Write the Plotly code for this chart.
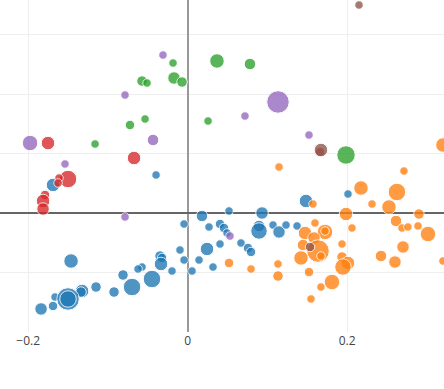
import plotly.graph_objects as go

# ---- data ----
blue_x = [-0.1689, -0.0397, 0.1483, 0.2010, 0.1371, -0.0046, 0.0179, 0.0518, 0.0932, 0.0267,
          0.0405, 0.0455, 0.0493, 0.0894, 0.0894, 0.1070, 0.1145, 0.1233, 0.0242, 0.0405,
          0.0668, 0.0756, 0.0794, -0.0046, 0.0142, 0.0317, 0.0054, -0.1463, -0.0097, -0.0347,
          -0.0322, -0.0335, -0.0573, -0.0623, -0.0197, -0.0811, -0.0448, -0.0698, -0.1150, -0.0924,
          -0.1325, -0.1338, -0.1664, -0.1501, -0.1501, -0.1689, -0.1839]
blue_y = [0.0471, 0.0639, 0.0202, 0.0319, -0.0218, -0.0185, -0.0050, 0.0034, 0.0000, -0.0235,
          -0.0185, -0.0252, -0.0336, -0.0218, -0.0303, -0.0202, -0.0319, -0.0202, -0.0605, -0.0521,
          -0.0504, -0.0588, -0.0655, -0.0790, -0.0790, -0.0908, -0.0975, -0.0807, -0.0622, -0.0723,
          -0.0756, -0.0857, -0.0908, -0.0941, -0.0975, -0.1042, -0.1109, -0.1244, -0.1244, -0.1328,
          -0.1311, -0.1328, -0.1412, -0.1445, -0.1445, -0.1563, -0.1613]
blue_s = [11, 6, 11, 6, 6, 6, 9, 6, 10, 6,
          7, 7, 6, 9, 14, 6, 10, 6, 11, 6,
          6, 7, 7, 6, 6, 6, 6, 12, 6, 8,
          7, 11, 6, 6, 6, 8, 15, 15, 8, 8,
          11, 8, 6, 20, 14, 7, 10]

orange_x = [0.2712, 0.2173, 0.2624, 0.2311, 0.2524, 0.1571, 0.1985, 0.2900, 0.1596, 0.2612,
            0.2060, 0.2687, 0.2762, 0.2888, 0.3013, 0.1471, 0.1722, 0.1722, 0.1584, 0.1446,
            0.1634, 0.1671, 0.1935, 0.2700, 0.1421, 0.1935, 0.2010, 0.1947, 0.2424, 0.2599,
            0.3201, 0.1521, 0.1809, 0.1671, 0.1546, 0.3201, 0.1145, 0.0518, 0.0794, 0.1132,
            0.1132]
orange_y = [0.0706, 0.0420, 0.0353, 0.0151, 0.0101, 0.0151, -0.0017, -0.0017, -0.0168, -0.0134,
            -0.0252, -0.0252, -0.0235, -0.0218, -0.0353, -0.0336, -0.0319, -0.0303, -0.0420, -0.0538,
            -0.0639, -0.0723, -0.0521, -0.0571, -0.0756, -0.0739, -0.0840, -0.0908, -0.0723, -0.0824,
            -0.0807, -0.0992, -0.1160, -0.1244, -0.1445, 0.1143, 0.0773, -0.0840, -0.0941, -0.0857,
            -0.1059]
orange_s = [6, 12, 15, 6, 12, 6, 11, 8, 6, 9,
            6, 6, 6, 6, 13, 11, 13, 6, 10, 9,
            20, 6, 6, 10, 12, 8, 11, 14, 9, 10,
            6, 7, 13, 6, 6, 12, 6, 7, 6, 6,
            8]

green_x = [-0.0573, -0.0510, -0.0724, -0.0535, -0.0184, -0.0172, -0.0071, 0.0367, 0.0781, 0.0255,
           -0.1162, 0.1985]
green_y = [0.2218, 0.2185, 0.1479, 0.1580, 0.2521, 0.2269, 0.2202, 0.2555, 0.2504, 0.1546,
           0.1160, 0.0975]
green_s = [8, 6, 7, 6, 6, 10, 8, 12, 9, 6, 6, 16]

red_x = [-0.1752, -0.0673, -0.1501, -0.1614, -0.1626, -0.1789, -0.1814, -0.1814, 0.1659]
red_y = [0.1176, 0.0924, 0.0571, 0.0588, 0.0504, 0.0303, 0.0202, 0.0067, 0.1025]
red_s = [11, 11, 15, 6, 6, 7, 11, 10, 7]

purple_x = [-0.0786, -0.0310, 0.1132, 0.0718, -0.1977, -0.1539, -0.0786, -0.0435, 0.1521, 0.0530]
purple_y = [0.1983, 0.2655, 0.1866, 0.1630, 0.1176, 0.0824, -0.0067, 0.1227, 0.1311, -0.0387]
purple_s = [6, 6, 20, 6, 13, 6, 6, 9, 6, 6]

brown_x = [0.2148, 0.1671, 0.1534]
brown_y = [0.3496, 0.1059, -0.0571]
brown_s = [6, 11, 7]

series = [
    ("blue", blue_x, blue_y, blue_s, "#1f77b4"),
    ("orange", orange_x, orange_y, orange_s, "#ff7f0e"),
    ("green", green_x, green_y, green_s, "#2ca02c"),
    ("red", red_x, red_y, red_s, "#d62728"),
    ("purple", purple_x, purple_y, purple_s, "#9467bd"),
    ("brown", brown_x, brown_y, brown_s, "#8c564b"),
]

fig = go.Figure()
for name, xs, ys, ss, col in series:
    fig.add_trace(go.Scatter(
        x=xs, y=ys, mode="markers", name=name,
        marker=dict(size=[v + 2.5 for v in ss], sizemode="diameter", color=col, opacity=0.78,
                    line=dict(color="white", width=1)),
    ))

fig.update_layout(
    width=444, height=389,
    margin=dict(l=0, r=0, t=0, b=57),
    paper_bgcolor="white", plot_bgcolor="white",
    showlegend=False,
    font=dict(family="Open Sans", size=12, color="#444"),
    xaxis=dict(range=[-0.2354, 0.3214], tickvals=[-0.2, 0, 0.2], ticktext=["\u22120.2", "0", "0.2"],
               showgrid=True, gridcolor="#eeeeee", gridwidth=1,
               zeroline=True, zerolinecolor="#999999", zerolinewidth=2,
               showline=False, ticks=""),
    yaxis=dict(range=[-0.2, 0.358], dtick=0.1, showticklabels=False,
               showgrid=True, gridcolor="#eeeeee", gridwidth=1,
               zeroline=True, zerolinecolor="#666666", zerolinewidth=2,
               showline=False, ticks=""),
)

fig.write_html("out.html", config={"displayModeBar": False},
               post_script="document.body.style.margin='0px';")
